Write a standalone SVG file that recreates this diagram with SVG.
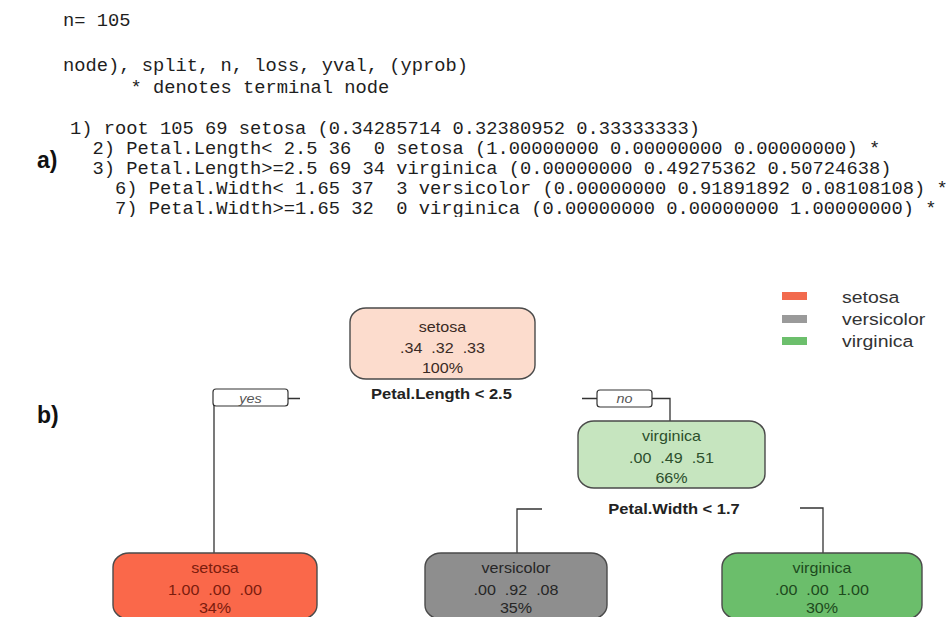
<svg xmlns="http://www.w3.org/2000/svg" width="951" height="617" viewBox="0 0 951 617" xml:space="preserve">
  <defs>
    <clipPath id="consoleClip">
      <rect x="0" y="0" width="951" height="217"/>
    </clipPath>
    <style>
      .code { font-family: "Liberation Mono", "DejaVu Sans Mono", monospace; font-size: 18.75px; fill: #1e1e1e; white-space: pre; }
      .panel { font-family: "Liberation Sans", Arial, sans-serif; font-size: 23px; font-weight: bold; fill: #111; }
      .box { stroke: #4a4a4a; stroke-width: 1.4; }
      .nt { font-family: "Liberation Sans", Arial, sans-serif; font-size: 14px; text-anchor: middle; white-space: pre; }
      .split { font-family: "Liberation Sans", Arial, sans-serif; font-size: 14px; font-weight: bold; text-anchor: middle; fill: #222; }
      .edge { fill: none; stroke: #333; stroke-width: 1.3; }
      .tag { fill: #fff; stroke: #333; stroke-width: 1.2; }
      .tagt { font-family: "Liberation Sans", Arial, sans-serif; font-size: 12px; font-style: italic; text-anchor: middle; fill: #555; }
      .leg { font-family: "Liberation Sans", Arial, sans-serif; font-size: 16.5px; fill: #333; }
    </style>
  </defs>
  <rect width="951" height="617" fill="#fff"/>

  <!-- a) printed rpart model -->
  <g id="console" clip-path="url(#consoleClip)">
    <text class="code" x="63" y="26">n= 105</text>
    <text class="code" x="63" y="71">node), split, n, loss, yval, (yprob)</text>
    <text class="code" x="63" y="93">      * denotes terminal node</text>
    <text class="code" x="70" y="134">1) root 105 69 setosa (0.34285714 0.32380952 0.33333333)</text>
    <text class="code" x="70" y="154">  2) Petal.Length&lt; 2.5 36  0 setosa (1.00000000 0.00000000 0.00000000) *</text>
    <text class="code" x="70" y="174">  3) Petal.Length&gt;=2.5 69 34 virginica (0.00000000 0.49275362 0.50724638)</text>
    <text class="code" x="70" y="194">    6) Petal.Width&lt; 1.65 37  3 versicolor (0.00000000 0.91891892 0.08108108) *</text>
    <text class="code" x="70" y="214">    7) Petal.Width&gt;=1.65 32  0 virginica (0.00000000 0.00000000 1.00000000) *</text>
  </g>
  <text class="panel" x="37" y="168">a)</text>
  <text class="panel" x="37" y="423">b)</text>

  <!-- legend -->
  <g id="legend">
    <rect x="782" y="292" width="25" height="8" fill="#F26A4D"/>
    <rect x="782" y="315" width="25" height="8" fill="#9A9A9A"/>
    <rect x="782" y="337" width="25" height="8" fill="#6CBF6C"/>
    <text class="leg" transform="translate(842 303) scale(1.18 1)">setosa</text>
    <text class="leg" transform="translate(842 325) scale(1.18 1)">versicolor</text>
    <text class="leg" transform="translate(842 347) scale(1.18 1)">virginica</text>
  </g>

  <!-- branches -->
  <g id="connectors">
    <polyline class="edge" points="300,398.5 214,398.5 214,553"/>
    <polyline class="edge" points="582,398.5 670,398.5 670,421"/>
    <polyline class="edge" points="542,509 517,509 517,553"/>
    <polyline class="edge" points="800,508 823,508 823,553"/>
    <rect class="tag" x="213" y="389" width="75" height="17" rx="3"/>
    <text class="tagt" transform="translate(250.5 402.5) scale(1.2 1)">yes</text>
    <rect class="tag" x="597" y="390" width="55" height="17" rx="3"/>
    <text class="tagt" transform="translate(624.5 403) scale(1.2 1)">no</text>
  </g>

  <!-- split conditions -->
  <text class="split" transform="translate(441.5 399) scale(1.18 1)">Petal.Length &lt; 2.5</text>
  <text class="split" transform="translate(674 514) scale(1.18 1)">Petal.Width &lt; 1.7</text>

  <!-- node 1: root -->
  <g id="node1">
    <rect class="box" x="350" y="308" width="185" height="71" rx="16" ry="14" fill="#FCDCCD"/>
    <g fill="#3a2a24">
      <text class="nt" transform="translate(442.5 332) scale(1.15 1)">setosa</text>
      <text class="nt" transform="translate(442.5 352.5) scale(1.15 1)">.34  .32  .33</text>
      <text class="nt" transform="translate(442.5 373) scale(1.15 1)">100%</text>
    </g>
  </g>

  <!-- node 3: virginica (internal) -->
  <g id="node3">
    <rect class="box" x="578" y="421" width="187" height="67" rx="16" ry="14" fill="#C6E5BF"/>
    <g fill="#2C4F2C">
      <text class="nt" transform="translate(671.5 441) scale(1.15 1)">virginica</text>
      <text class="nt" transform="translate(671.5 462.5) scale(1.15 1)">.00  .49  .51</text>
      <text class="nt" transform="translate(671.5 483) scale(1.15 1)">66%</text>
    </g>
  </g>

  <!-- node 2: setosa leaf -->
  <g id="node2">
    <rect class="box" x="113" y="553" width="204" height="66" rx="16" ry="14" fill="#FA684A"/>
    <g fill="#7A1C0E">
      <text class="nt" transform="translate(215 573) scale(1.15 1)">setosa</text>
      <text class="nt" transform="translate(215 595) scale(1.15 1)">1.00  .00  .00</text>
      <text class="nt" transform="translate(215 613) scale(1.15 1)">34%</text>
    </g>
  </g>

  <!-- node 6: versicolor leaf -->
  <g id="node6">
    <rect class="box" x="425" y="553" width="182" height="66" rx="16" ry="14" fill="#8E8E8E"/>
    <g fill="#262626">
      <text class="nt" transform="translate(516 573) scale(1.15 1)">versicolor</text>
      <text class="nt" transform="translate(516 595) scale(1.15 1)">.00  .92  .08</text>
      <text class="nt" transform="translate(516 613) scale(1.15 1)">35%</text>
    </g>
  </g>

  <!-- node 7: virginica leaf -->
  <g id="node7">
    <rect class="box" x="722" y="553" width="200" height="66" rx="16" ry="14" fill="#6BBE6B"/>
    <g fill="#1D4A1D">
      <text class="nt" transform="translate(822 573) scale(1.15 1)">virginica</text>
      <text class="nt" transform="translate(822 595) scale(1.15 1)">.00  .00  1.00</text>
      <text class="nt" transform="translate(822 613) scale(1.15 1)">30%</text>
    </g>
  </g>
</svg>
